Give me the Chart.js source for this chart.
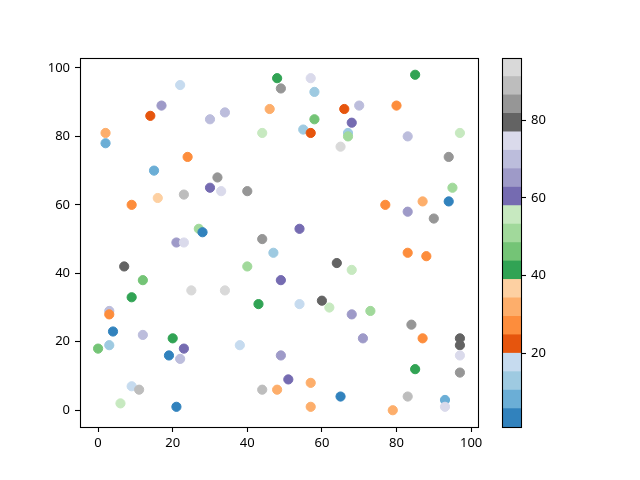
<!DOCTYPE html>
<html>
<head>
<meta charset="utf-8">
<script src="https://cdn.jsdelivr.net/npm/chart.js@4.4.1/dist/chart.umd.min.js"></script>
<style>
html,body{margin:0;padding:0;background:#fff;}
#wrap{position:relative;width:640px;height:480px;}
#main{position:absolute;left:0;top:0;}
#cbar{position:absolute;left:490px;top:0;}
</style>
</head>
<body>
<div id="wrap">
<canvas id="main" width="490" height="480"></canvas>
<canvas id="cbar" width="150" height="480"></canvas>
</div>
<script>
// ---- data ----
const xValues = [48,49,22,17,14,30,34,46,44,2,2,24,15,32,30,33,40,9,16,23,27,28,44,21,23,
  57,58,66,70,80,85,58,68,55,57,67,67,65,83,97,94,95,87,94,77,83,90,54,
  7,12,9,3,3,4,12,3,0,20,23,19,22,25,34,40,47,43,38,9,11,6,21,44,48,49,49,
  64,68,83,88,54,60,62,68,73,84,71,87,97,97,97,85,97,51,57,65,83,93,93,57,79];
const yValues = [97,94,95,89,86,85,87,88,81,81,78,74,70,68,65,64,64,60,62,63,53,52,50,49,49,
  97,93,88,89,89,98,85,84,82,81,81,80,77,80,81,74,65,61,61,60,58,56,53,
  42,38,33,29,28,23,22,19,18,21,18,16,15,35,35,42,46,31,19,7,6,2,1,6,6,38,16,
  43,41,46,45,31,32,30,28,29,25,21,21,21,19,16,12,11,9,8,4,4,3,1,1,0];
const colorValues = [41,84,18,65,22,70,70,32,56,32,8,27,8,84,60,75,84,27,37,89,51,3,84,65,75,
  75,13,22,70,27,41,46,60,13,22,13,51,94,70,56,84,51,32,3,27,65,84,60,
  79,46,41,70,27,3,70,13,46,41,60,3,70,94,94,51,13,41,18,18,89,56,3,89,32,60,65,
  79,56,27,27,18,79,56,65,51,84,65,27,79,79,75,41,84,60,32,3,89,8,75,32,32];
const xTicks = [0,20,40,60,80,100];
const yTicks = [0,20,40,60,80,100];
const cbarTicks = [20,40,60,80];
const cMin = 1, cMax = 96;

// tab20c colormap
const tab20c = ['#3182bd','#6baed6','#9ecae1','#c6dbef','#e6550d','#fd8d3c','#fdae6b','#fdd0a2',
  '#31a354','#74c476','#a1d99b','#c7e9c0','#756bb1','#9e9ac8','#bcbddc','#dadaeb',
  '#636363','#969696','#bdbdbd','#d9d9d9'];
function cmap(v){
  let t = (v - cMin) / (cMax - cMin);
  let i = Math.floor(t * tab20c.length);
  if (i < 0) i = 0; if (i >= tab20c.length) i = tab20c.length - 1;
  return tab20c[i];
}

const FONT = {family: '"Noto Sans", "DejaVu Sans", sans-serif', size: 13};
Chart.defaults.font = FONT;
Chart.defaults.color = '#000';
Chart.defaults.animation = false;
Chart.defaults.responsive = false;
Chart.defaults.devicePixelRatio = 1;

const frame = {
  id: 'frame',
  afterDatasetsDraw(chart){
    const a = chart.chartArea, ctx = chart.ctx;
    ctx.save();
    ctx.strokeStyle = '#000'; ctx.lineWidth = 1.1;
    ctx.strokeRect(Math.round(a.left)+0.5, Math.round(a.top)+0.5, Math.round(a.right-a.left), Math.round(a.bottom-a.top));
    ctx.restore();
  }
};

const pts = xValues.map((x,i)=>({x:x, y:yValues[i]}));
const xMin = Math.min(...xValues), xMax = Math.max(...xValues);
const yMin = Math.min(...yValues), yMax = Math.max(...yValues);
const mx = (xMax-xMin)*0.05, my = (yMax-yMin)*0.05;

const tickGrid = {display:true, drawOnChartArea:false, drawTicks:true, tickLength:5, tickColor:'#000', tickWidth:1.1};

new Chart(document.getElementById('main'), {
  type: 'scatter',
  data: {datasets: [{
    data: pts,
    pointBackgroundColor: colorValues.map(cmap),
    pointBorderColor: colorValues.map(cmap),
    pointRadius: 4.6,
    pointBorderWidth: 1,
    pointHoverRadius: 4.6
  }]},
  options: {
    layout: {padding: {left:0, top:58, right:12, bottom:0}},
    plugins: {legend:{display:false}, tooltip:{enabled:false}},
    scales: {
      x: {
        type:'linear', min: xMin-mx, max: xMax+mx,
        grid: tickGrid, border:{display:false},
        ticks: {padding:3, maxRotation:0, font:FONT},
        afterBuildTicks: s => { s.ticks = xTicks.map(v=>({value:v})); },
        afterFit: s => { s.height = 53; }
      },
      y: {
        type:'linear', min: yMin-my, max: yMax+my,
        grid: tickGrid, border:{display:false},
        ticks: {padding:5, font:FONT},
        afterBuildTicks: s => { s.ticks = yTicks.map(v=>({value:v})); },
        afterFit: s => { s.width = 80; }
      }
    }
  },
  plugins: [frame]
});

// colorbar
const nC = tab20c.length;
const cbDatasets = tab20c.map((c,i)=>({
  data: [[cMin + (cMax-cMin)*i/nC, cMin + (cMax-cMin)*(i+1)/nC]],
  backgroundColor: c, borderWidth: 0, grouped: false,
  barPercentage: 1, categoryPercentage: 1
}));
new Chart(document.getElementById('cbar'), {
  type: 'bar',
  data: {labels: [''], datasets: cbDatasets},
  options: {
    layout: {padding: {left:12, top:58, right:0, bottom:53}},
    plugins: {legend:{display:false}, tooltip:{enabled:false}},
    scales: {
      x: {display:false},
      y: {
        position:'right', min:cMin, max:cMax,
        grid: tickGrid, border:{display:false},
        ticks: {padding:5, font:FONT},
        afterBuildTicks: s => { s.ticks = cbarTicks.map(v=>({value:v})); },
        afterFit: s => { s.width = 150-12-19; }
      }
    }
  },
  plugins: [frame]
});
</script>
</body>
</html>
